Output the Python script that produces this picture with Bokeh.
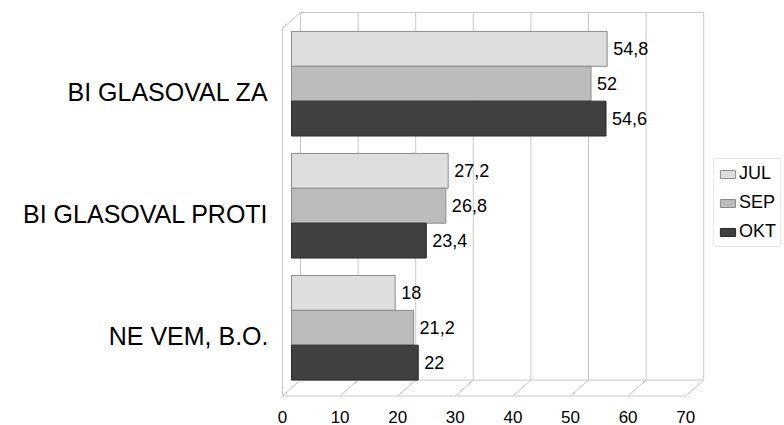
from bokeh.plotting import figure
from bokeh.models import Range1d, LinearAxis, FixedTicker, ColumnDataSource, Legend, LegendItem
from bokeh.core.properties import value
from bokeh.embed import file_html
from bokeh.resources import INLINE

# ---- data ----
categories = ["BI GLASOVAL ZA", "BI GLASOVAL PROTI", "NE VEM, B.O."]
series = ["JUL", "SEP", "OKT"]
jul = [54.8, 27.2, 18]
sep = [52, 26.8, 21.2]
okt = [54.6, 23.4, 22]
x_ticks = [0, 10, 20, 30, 40, 50, 60, 70]
colors = ["#dedede", "#bbbbbb", "#404040"]
edge_colors = ["#8c8c8c", "#8c8c8c", "#2a2a2a"]

# ---- geometry (style) ----
FONT = "Liberation Sans"
PX_X = 5.76          # px per x unit
PX_Y = 122.5         # px per category
BACK_DX = 18 / PX_X
BACK_DY = 16 / PX_Y
MID_DX = BACK_DX / 2
BAR_H = 35 / PX_Y
Y_BACK_TOP = -71.5 / PX_Y
Y_BACK_FLOOR = 297.5 / PX_Y
Y_FRONT_FLOOR = Y_BACK_FLOOR + BACK_DY
Y_FRONT_TOP = Y_BACK_TOP + BACK_DY
LABEL_SHIFT = 8.5 / PX_Y

W, H = 784, 425
FRAME_LEFT = 278
x_range = Range1d(-4 / PX_X, (W - 282) / PX_X)
y_range = Range1d(Y_FRONT_FLOOR + 1.5 / PX_Y, Y_BACK_TOP - 2 / PX_Y)

p = figure(width=W, height=H, output_backend="svg", toolbar_location=None,
           x_range=x_range, y_range=y_range, y_axis_location=None,
           min_border_left=FRAME_LEFT, min_border_right=0, min_border_top=10, min_border_bottom=0,
           background_fill_color="white", border_fill_color="white")
p.outline_line_color = None
p.xgrid.visible = False
p.ygrid.visible = False

# x axis
xa = p.xaxis[0]
xa.ticker = FixedTicker(ticks=x_ticks)
xa.axis_line_color = None
xa.major_tick_line_color = None
xa.minor_tick_line_color = None
xa.major_label_text_font = FONT
xa.major_label_text_font_size = "17px"
xa.major_label_text_color = "#000000"
xa.major_label_standoff = 7

# category axis on shifted range
p.extra_y_ranges = {"cat": Range1d(y_range.start - LABEL_SHIFT, y_range.end - LABEL_SHIFT)}
ya = LinearAxis(y_range_name="cat", ticker=FixedTicker(ticks=list(range(len(categories)))),
                major_label_overrides={i: c for i, c in enumerate(categories)})
ya.axis_line_color = None
ya.major_tick_line_color = None
ya.minor_tick_line_color = None
ya.major_label_text_font = FONT
ya.major_label_text_font_size = "25px"
ya.major_label_text_color = "#000000"
ya.major_label_standoff = 4
p.add_layout(ya, "left")

# ---- 3D walls ----
grid_c = "#c8c8c8"
xmax = x_ticks[-1]
p.segment(x0=[t + BACK_DX for t in x_ticks], y0=[Y_BACK_TOP] * len(x_ticks),
          x1=[t + BACK_DX for t in x_ticks], y1=[Y_BACK_FLOOR] * len(x_ticks),
          line_color=grid_c, line_width=1)
p.segment(x0=[t + BACK_DX for t in x_ticks], y0=[Y_BACK_FLOOR] * len(x_ticks),
          x1=x_ticks, y1=[Y_FRONT_FLOOR] * len(x_ticks),
          line_color=grid_c, line_width=1)
p.segment(x0=[BACK_DX, BACK_DX, 0, 0, 0],
          y0=[Y_BACK_TOP, Y_BACK_FLOOR, Y_FRONT_FLOOR, Y_FRONT_TOP, Y_FRONT_TOP],
          x1=[xmax + BACK_DX, xmax + BACK_DX, xmax, 0, BACK_DX],
          y1=[Y_BACK_TOP, Y_BACK_FLOOR, Y_FRONT_FLOOR, Y_FRONT_FLOOR, Y_BACK_TOP],
          line_color=grid_c, line_width=1)

# ---- bars ----
items = []
for k, (name, vals) in enumerate(zip(series, [jul, sep, okt])):
    ys = [i + (k - 1) * BAR_H for i in range(len(categories))]
    src = ColumnDataSource(dict(
        y=ys, left=[MID_DX] * len(vals), right=[MID_DX + v for v in vals],
        lab=[f"{v:g}".replace(".", ",") for v in vals]))
    r = p.hbar(y="y", left="left", right="right", height=BAR_H, source=src,
               fill_color=colors[k], line_color=edge_colors[k], line_width=1)
    p.text(x="right", y="y", text="lab", source=src, x_offset=6,
           text_font=value(FONT), text_font_size="18px", text_color="#000000",
           text_baseline="middle", text_align="left")
    items.append(LegendItem(label=name, renderers=[r]))

legend = Legend(items=items, location=(713 - FRAME_LEFT, 150), orientation="vertical",
                glyph_width=19, glyph_height=10, label_standoff=2, spacing=8,
                label_height=20, padding=4, margin=0,
                label_text_font=FONT, label_text_font_size="18px", label_text_color="#000000",
                border_line_color="#d4d4d4", border_line_width=1,
                background_fill_color="white", background_fill_alpha=1)
p.add_layout(legend, "center")

open("out.html", "w").write(file_html(p, INLINE))
